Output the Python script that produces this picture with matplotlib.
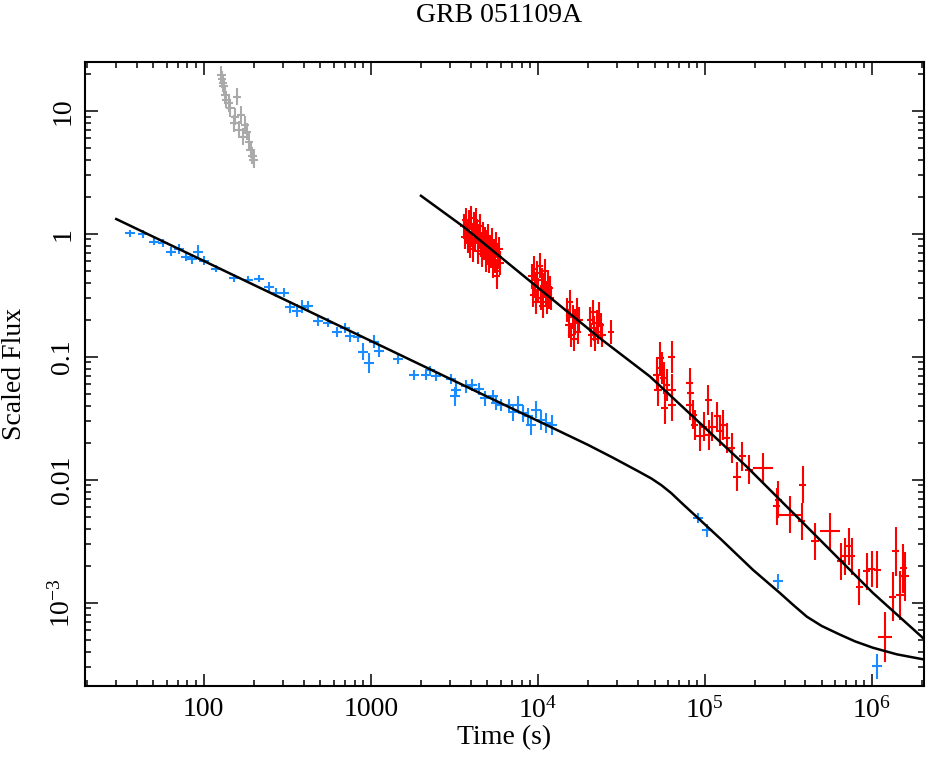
import matplotlib
matplotlib.use("Agg")
import matplotlib.pyplot as plt
import numpy as np

plt.rcParams["font.family"] = ["Liberation Serif", "DejaVu Serif"]
plt.rcParams["mathtext.fontset"] = "custom"
plt.rcParams["mathtext.rm"] = "Liberation Serif"
plt.rcParams["mathtext.it"] = "Liberation Serif:italic"

# BAT (grey) points
bat_t = [127.7, 129.4, 130.6, 131.8, 135, 136.8, 141.2, 144.5, 151.4, 158.3,
         153.5, 162.6, 168.1, 171.9, 177.6, 182.6, 186.7, 191, 195.7, 199]
bat_f = [19.6, 18.1, 16.8, 15.8, 13.5, 12.3, 11.6, 10.5, 7.94, 13.1,
         8.99, 7.01, 9.28, 6.18, 7.69, 6.79, 5.63, 4.82, 4.31, 4.0]

# UVOT / optical (blue) points
opt_t = [36.4, 43.4, 50.2, 57.1, 64.1, 71.1, 78.8, 85.5, 92.5, 100,
         118, 153, 184, 214, 245, 272, 301, 330, 362, 390,
         421, 483, 555, 628, 698, 755, 839, 899, 973, 1042,
         1117, 1457, 1807, 2133, 2276, 2448, 3041, 3184, 3258, 3741,
         4064, 4433, 4817, 5400, 5659, 6064, 6731, 7112, 7620, 8164,
         8747, 9165, 9820, 10520, 11270, 12240,
         91200, 102400, 275000, 1077000]
opt_f = [1.01, 1.00, 0.866, 0.84, 0.718, 0.751, 0.654, 0.623, 0.718, 0.607,
         0.522, 0.436, 0.423, 0.431, 0.369, 0.333, 0.333, 0.254, 0.238, 0.256,
         0.26, 0.197, 0.19, 0.158, 0.171, 0.148, 0.145, 0.11, 0.089, 0.133,
         0.112, 0.0958, 0.0714, 0.0714, 0.0774, 0.0701, 0.0659, 0.0476, 0.054, 0.0574,
         0.0592, 0.0546, 0.0461, 0.0476, 0.042, 0.0407, 0.0407, 0.0353, 0.0407, 0.0348,
         0.0327, 0.028, 0.0371, 0.0308, 0.0289, 0.028,
         0.00489, 0.00387, 0.00149, 0.000303]
opt_ferr = [0.03, 0.03, 0.03, 0.035, 0.035, 0.04, 0.035, 0.04, 0.05, 0.04,
            0.03, 0.03, 0.03, 0.03, 0.04, 0.04, 0.04, 0.05, 0.05, 0.05,
            0.04, 0.04, 0.04, 0.04, 0.04, 0.05, 0.04, 0.07, 0.08, 0.05,
            0.05, 0.04, 0.04, 0.04, 0.04, 0.04, 0.04, 0.08, 0.06, 0.05,
            0.05, 0.05, 0.06, 0.05, 0.06, 0.05, 0.05, 0.07, 0.07, 0.07,
            0.07, 0.08, 0.07, 0.08, 0.08, 0.08,
            0.04, 0.05, 0.06, 0.1]

# XRT (red) points
xrt_t = [3600, 3650, 3700, 3760, 3800, 3850, 3900, 3950, 4000, 4050,
         4100, 4150, 4200, 4260, 4320, 4380, 4440, 4500, 4560, 4620,
         4680, 4740, 4800, 4870, 4940, 5000, 5070, 5140, 5210, 5280,
         5350, 5420, 5500, 5580, 5660, 5700, 5740, 5820, 5900, 5980,
         9200, 9350, 9500, 9650, 9800, 9950, 10100, 10250, 10400, 10550,
         10700, 10850, 11000, 11150, 11300, 11450, 11600, 11800, 12000,
         15000, 15300, 15600, 15900, 16200, 16500, 16800, 17100, 17400, 17700,
         20500, 20900, 21300, 21700, 22100, 22500, 22900, 23300, 23800, 24300,
         27400,
         51700, 52500, 53800, 55100, 56800, 57600, 59000, 63200, 63700, 63700,
         81300, 82000, 81300, 85100, 87100, 93300, 98600, 105000, 106000, 111000,
         119000, 123000, 129000, 135000, 145000, 156000, 168000, 184000, 223000,
         269000, 275000, 323000, 385000, 380000, 456000, 561000, 652000, 689000,
         731000, 755000, 839000, 929000, 995000, 1080000, 1200000, 1330000,
         1390000, 1470000, 1540000, 1580000]
xrt_f = [1.15, 0.95, 1.30, 1.05, 0.88, 1.25, 1.10, 0.80, 1.35, 0.98,
         0.75, 1.20, 0.90, 1.28, 1.05, 0.72, 0.95, 1.15, 0.82, 0.68,
         1.00, 0.78, 0.90, 0.62, 0.85, 0.70, 0.95, 0.60, 0.78, 0.66,
         0.88, 0.55, 0.72, 0.60, 0.82, 0.45, 0.50, 0.65, 0.75, 0.58,
         0.45, 0.32, 0.52, 0.38, 0.28, 0.48, 0.35, 0.55, 0.30, 0.42,
         0.26, 0.38, 0.50, 0.33, 0.28, 0.40, 0.31, 0.36, 0.30,
         0.24, 0.18, 0.28, 0.15, 0.21, 0.14, 0.19, 0.24, 0.16, 0.20,
         0.20, 0.15, 0.23, 0.17, 0.14, 0.19, 0.16, 0.22, 0.18, 0.15,
         0.159,
         0.0714, 0.054, 0.0975, 0.0809, 0.0671, 0.0383, 0.0592, 0.1005, 0.054, 0.0407,
         0.0611, 0.0507, 0.0407, 0.0338, 0.028, 0.0225, 0.0271, 0.0447, 0.0232, 0.0271,
         0.0327, 0.0247, 0.028, 0.0218, 0.0181, 0.0106, 0.0155, 0.0121, 0.0124,
         0.00607, 0.00687, 0.00519, 0.0091, 0.00458, 0.00315, 0.0038, 0.00217, 0.00238,
         0.00287, 0.00238, 0.00134, 0.0018, 0.00188, 0.00185, 0.000526, 0.00112,
         0.00261, 0.00115, 0.00191, 0.00164]
xrt_terr = ([0.02] * 80 + [0.022] * 28 + [0.06] + [0.022] * 2 + [0.065] + [0.022] * 3
            + [0.06] + [0.022] * 8 + [0.04] + [0.022] * 5)
xrt_ferr = [0.1] * 80 + [0.13] * 10 + [0.12] * 19 + [0.15] * 15 + [0.2] * 6

# model curves
fit_opt_t = [30, 20000, 28200, 39800, 47900, 55000, 63100, 74100, 93300, 126000,
             194000, 281000, 339000, 408000, 501000, 643000, 794000, 1014000,
             1410000, 2075000]
fit_opt_f = [1.32, 0.0192, 0.0151, 0.01175, 0.01023, 0.00902, 0.00776, 0.00631,
             0.00473, 0.00324, 0.00185, 0.0012, 0.000955, 0.000769, 0.000646,
             0.00055, 0.000484, 0.00043, 0.00038, 0.000344]
fit_xrt_t = [2000, 3570, 23500, 46900, 177800, 370700, 1014000, 2075000]
fit_xrt_f = [2.04, 1.15, 0.142, 0.0692, 0.0128, 0.00473, 0.0012, 0.0005]


def dex_err(v, d):
    v = np.asarray(v, dtype=float)
    d = np.asarray(d, dtype=float)
    return [v - v * 10 ** (-d), v * 10 ** d - v]


fig = plt.figure(figsize=(9.28, 7.57), dpi=100)
ax = fig.add_axes([85 / 928, 71 / 757, 839 / 928, 624 / 757])
ax.set_xscale("log")
ax.set_yscale("log")

ax.errorbar(bat_t, bat_f, xerr=dex_err(bat_t, 0.025), yerr=dex_err(bat_f, 0.07),
            fmt="none", ecolor="#aaaaaa", elinewidth=1.5, capsize=0)
ax.errorbar(opt_t, opt_f, xerr=dex_err(opt_t, 0.03), yerr=dex_err(opt_f, opt_ferr),
            fmt="none", ecolor="#1a8cff", elinewidth=1.5, capsize=0)
ax.errorbar(xrt_t, xrt_f, xerr=dex_err(xrt_t, xrt_terr), yerr=dex_err(xrt_f, xrt_ferr),
            fmt="none", ecolor="#ff0000", elinewidth=1.5, capsize=0)

ax.plot(fit_opt_t, fit_opt_f, color="black", lw=1.8)
ax.plot(fit_xrt_t, fit_xrt_f, color="black", lw=1.8)

ax.set_xlim(19.5, 2.05e6)
ax.set_ylim(2.1e-4, 25)

ax.set_xticks([100, 1000, 1e4, 1e5, 1e6])
ax.set_xticklabels(["100", "1000", r"$10^4$", r"$10^5$", r"$10^6$"])
ax.set_yticks([1e-3, 0.01, 0.1, 1, 10])
ax.set_yticklabels([r"$10^{-3}$", "0.01", "0.1", "1", "10"])

ax.tick_params(which="both", direction="in", top=True, right=True, labelsize=20, width=1.1)
ax.tick_params(which="major", length=9)
ax.tick_params(which="minor", length=4.5)
ax.tick_params(axis="x", pad=8)
ax.tick_params(axis="y", pad=7)
for lab in ax.get_yticklabels():
    lab.set_rotation(90)
    lab.set_va("center")
for sp in ax.spines.values():
    sp.set_linewidth(1.5)

ax.set_xlabel("Time (s)", fontsize=20)
ax.xaxis.set_label_coords(0.5, -0.082)
ax.xaxis.label.set_va("center")
ax.set_ylabel("Scaled Flux", fontsize=20)
ax.yaxis.set_label_coords(-0.0835, 0.5)
ax.yaxis.label.set_va("center")
fig.text(499 / 928, 1 - 15 / 757, "GRB 051109A", ha="center", va="center", fontsize=20)

fig.savefig("out.png", dpi=100)
